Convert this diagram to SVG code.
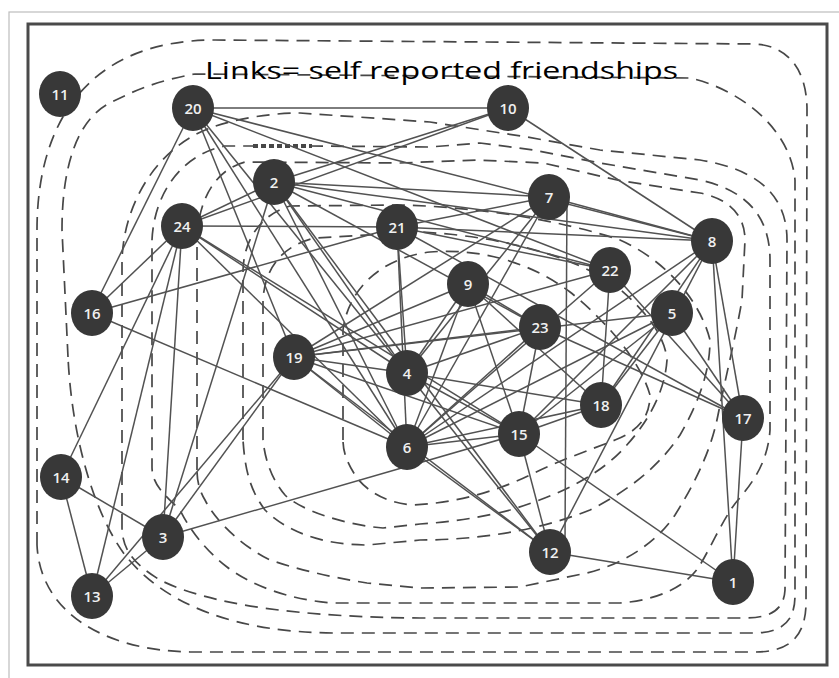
<svg xmlns="http://www.w3.org/2000/svg" width="839" height="678" viewBox="0 0 839 678">
<style>
.bg{fill:#fff}
.frame{fill:none;stroke:#4a4a4a;stroke-width:3}
.outer{fill:none;stroke:#bdbdbd;stroke-width:1.2}
.c{fill:none;stroke:#474747;stroke-width:1.7;stroke-dasharray:13 8}
.e{stroke:#525252;stroke-width:1.5;fill:none}
.n ellipse{fill:#383838}
.n text{fill:#f0f0f0;font-family:"Open Sans","Liberation Sans",sans-serif;font-size:15px;font-weight:600;text-anchor:middle}
.title{font-family:"Open Sans","Liberation Sans",sans-serif;font-size:23px;fill:#000}
</style>
<rect class="bg" x="0" y="0" width="839" height="678"/>
<rect class="outer" x="9" y="12" width="840" height="680"/>
<rect class="frame" x="28" y="24" width="799" height="641"/>
<g id="contours">
<path class="c" d="M37,545 L37,230 C37,120 90,40 215,40 L755,44 C790,46 807,72 807,110 L806,605 C805,638 788,652 755,652 L190,652 C100,650 40,610 37,545 Z"/>
<path class="c" d="M68,357 L62,230 C62,160 80,118 110,103 C135,90 160,80 195,74 L690,78 C735,88 790,125 795,180 L795,595 C795,622 782,633 752,633 L333,633 C235,632 165,605 125,555 C95,515 72,440 68,357 Z"/>
<path class="c" d="M122,527 L122,260 C124,200 160,145 213,127 C235,119 270,113 300,113 L430,122 L527,137 L600,150 L700,160 C750,168 787,190 787,240 L785,590 C784,610 770,618 745,618 L420,618 C300,617 210,605 160,580 C135,565 122,550 122,527 Z"/>
<path class="c" d="M310,146 L430,147 L480,143 L533,150 L600,163 L700,180 C745,190 770,215 770,260 L770,430 C768,460 755,480 738,500 C725,515 712,545 700,565 C688,585 660,600 620,603 L333,603 C290,600 250,585 227,567 C205,550 190,530 180,510 C165,495 152,485 152,467 L152,240 C154,195 180,155 225,146 L253,146"/>
<path class="c" d="M197,470 L197,240 C198,200 215,170 245,162 L400,163 L477,160 L543,163 L617,180 L700,193 C725,198 745,212 745,240 L742,300 C735,340 725,380 718,415 C712,445 700,475 675,515 C655,545 620,565 587,573 L520,587 L420,588 L367,583 C330,577 300,570 270,560 C240,545 215,520 205,500 C199,490 197,480 197,470 Z"/>
<path class="c" d="M243,440 L243,270 C244,240 260,215 290,206 L400,205 C480,207 560,220 620,240 C665,260 700,300 710,340 C710,370 700,400 680,435 C660,465 630,490 590,510 C540,530 480,540 420,540 L367,545 C320,545 285,530 265,510 C250,490 245,470 243,440 Z"/>
<path class="c" d="M263,440 L263,300 C265,265 285,245 315,238 L420,232 C500,236 570,255 615,285 C645,310 665,335 667,360 C665,390 650,420 625,447 C600,475 560,495 510,510 C480,518 450,522 420,524 L383,528 C345,525 300,510 285,495 C272,480 265,460 263,440 Z"/>
<path class="c" d="M343,440 L343,330 C348,290 380,258 430,252 C480,248 530,262 570,292 C605,320 640,360 650,395 C650,420 635,432 615,440 C590,450 560,460 530,475 C495,492 455,503 413,505 C385,503 365,490 355,475 C347,462 343,452 343,440 Z"/>
<path d="M253,146 L312,146" stroke="#474747" stroke-width="4" stroke-dasharray="5 3" fill="none"/>
</g>
<g id="connectors">
<line class="e" x1="193" y1="108" x2="508" y2="108"/>
<line class="e" x1="193" y1="108" x2="712" y2="241"/>
<line class="e" x1="193" y1="108" x2="610" y2="270"/>
<line class="e" x1="193" y1="108" x2="407" y2="447"/>
<line class="e" x1="193" y1="108" x2="294" y2="357"/>
<line class="e" x1="193" y1="108" x2="91" y2="313"/>
<line class="e" x1="193" y1="108" x2="407" y2="373"/>
<line class="e" x1="508" y1="108" x2="274" y2="182"/>
<line class="e" x1="508" y1="108" x2="182" y2="226"/>
<line class="e" x1="508" y1="108" x2="712" y2="241"/>
<line class="e" x1="91" y1="313" x2="182" y2="226"/>
<line class="e" x1="91" y1="313" x2="397" y2="227"/>
<line class="e" x1="91" y1="313" x2="407" y2="447"/>
<line class="e" x1="182" y1="226" x2="274" y2="182"/>
<line class="e" x1="182" y1="226" x2="397" y2="227"/>
<line class="e" x1="182" y1="226" x2="61" y2="477"/>
<line class="e" x1="182" y1="226" x2="92" y2="596"/>
<line class="e" x1="182" y1="226" x2="163" y2="537"/>
<line class="e" x1="182" y1="226" x2="407" y2="373"/>
<line class="e" x1="182" y1="226" x2="519" y2="434"/>
<line class="e" x1="182" y1="226" x2="407" y2="447"/>
<line class="e" x1="274" y1="182" x2="549" y2="197"/>
<line class="e" x1="274" y1="182" x2="712" y2="241"/>
<line class="e" x1="274" y1="182" x2="610" y2="270"/>
<line class="e" x1="274" y1="182" x2="540" y2="327"/>
<line class="e" x1="274" y1="182" x2="163" y2="537"/>
<line class="e" x1="274" y1="182" x2="407" y2="447"/>
<line class="e" x1="274" y1="182" x2="407" y2="373"/>
<line class="e" x1="274" y1="182" x2="550" y2="552"/>
<line class="e" x1="397" y1="227" x2="549" y2="197"/>
<line class="e" x1="397" y1="227" x2="712" y2="241"/>
<line class="e" x1="397" y1="227" x2="407" y2="373"/>
<line class="e" x1="397" y1="227" x2="407" y2="447"/>
<line class="e" x1="397" y1="227" x2="610" y2="270"/>
<line class="e" x1="397" y1="227" x2="743" y2="418"/>
<line class="e" x1="549" y1="197" x2="712" y2="241"/>
<line class="e" x1="567" y1="200" x2="565" y2="540"/>
<line class="e" x1="549" y1="197" x2="407" y2="373"/>
<line class="e" x1="549" y1="197" x2="407" y2="447"/>
<line class="e" x1="549" y1="197" x2="294" y2="357"/>
<line class="e" x1="712" y1="241" x2="601" y2="405"/>
<line class="e" x1="712" y1="241" x2="519" y2="434"/>
<line class="e" x1="712" y1="241" x2="407" y2="447"/>
<line class="e" x1="712" y1="241" x2="743" y2="418"/>
<line class="e" x1="712" y1="241" x2="733" y2="582"/>
<line class="e" x1="712" y1="241" x2="550" y2="552"/>
<line class="e" x1="610" y1="270" x2="601" y2="405"/>
<line class="e" x1="610" y1="270" x2="743" y2="418"/>
<line class="e" x1="610" y1="270" x2="294" y2="357"/>
<line class="e" x1="610" y1="270" x2="407" y2="447"/>
<line class="e" x1="468" y1="284" x2="407" y2="373"/>
<line class="e" x1="468" y1="284" x2="519" y2="434"/>
<line class="e" x1="468" y1="284" x2="601" y2="405"/>
<line class="e" x1="468" y1="284" x2="407" y2="447"/>
<line class="e" x1="468" y1="284" x2="294" y2="357"/>
<line class="e" x1="468" y1="284" x2="540" y2="327"/>
<line class="e" x1="540" y1="327" x2="294" y2="357"/>
<line class="e" x1="540" y1="327" x2="519" y2="434"/>
<line class="e" x1="540" y1="327" x2="743" y2="418"/>
<line class="e" x1="540" y1="327" x2="407" y2="447"/>
<line class="e" x1="540" y1="327" x2="407" y2="373"/>
<line class="e" x1="672" y1="313" x2="743" y2="418"/>
<line class="e" x1="672" y1="313" x2="601" y2="405"/>
<line class="e" x1="672" y1="313" x2="294" y2="357"/>
<line class="e" x1="672" y1="313" x2="519" y2="434"/>
<line class="e" x1="672" y1="313" x2="407" y2="447"/>
<line class="e" x1="601" y1="405" x2="519" y2="434"/>
<line class="e" x1="601" y1="405" x2="407" y2="373"/>
<line class="e" x1="601" y1="405" x2="407" y2="447"/>
<line class="e" x1="743" y1="418" x2="733" y2="582"/>
<line class="e" x1="519" y1="434" x2="550" y2="552"/>
<line class="e" x1="519" y1="434" x2="733" y2="582"/>
<line class="e" x1="519" y1="434" x2="163" y2="537"/>
<line class="e" x1="519" y1="434" x2="407" y2="447"/>
<line class="e" x1="519" y1="434" x2="294" y2="357"/>
<line class="e" x1="519" y1="434" x2="407" y2="373"/>
<line class="e" x1="550" y1="552" x2="733" y2="582"/>
<line class="e" x1="550" y1="552" x2="407" y2="447"/>
<line class="e" x1="550" y1="552" x2="407" y2="373"/>
<line class="e" x1="550" y1="552" x2="294" y2="357"/>
<line class="e" x1="294" y1="357" x2="407" y2="373"/>
<line class="e" x1="294" y1="357" x2="407" y2="447"/>
<line class="e" x1="294" y1="357" x2="163" y2="537"/>
<line class="e" x1="61" y1="477" x2="92" y2="596"/>
<line class="e" x1="61" y1="477" x2="163" y2="537"/>
<line class="e" x1="92" y1="596" x2="163" y2="537"/>
<line class="e" x1="92" y1="596" x2="294" y2="357"/>
</g>
<text class="title" x="205" y="79" textLength="473" lengthAdjust="spacingAndGlyphs">Links= self reported friendships</text>
<g id="n11" class="n"><ellipse cx="60" cy="94" rx="21" ry="23"/><text x="60" y="99.5">11</text></g>
<g id="n20" class="n"><ellipse cx="193" cy="108" rx="21" ry="23"/><text x="193" y="113.5">20</text></g>
<g id="n10" class="n"><ellipse cx="508" cy="108" rx="21" ry="23"/><text x="508" y="113.5">10</text></g>
<g id="n2" class="n"><ellipse cx="274" cy="182" rx="21" ry="23"/><text x="274" y="187.5">2</text></g>
<g id="n7" class="n"><ellipse cx="549" cy="197" rx="21" ry="23"/><text x="549" y="202.5">7</text></g>
<g id="n24" class="n"><ellipse cx="182" cy="226" rx="21" ry="23"/><text x="182" y="231.5">24</text></g>
<g id="n21" class="n"><ellipse cx="397" cy="227" rx="21" ry="23"/><text x="397" y="232.5">21</text></g>
<g id="n8" class="n"><ellipse cx="712" cy="241" rx="21" ry="23"/><text x="712" y="246.5">8</text></g>
<g id="n22" class="n"><ellipse cx="610" cy="270" rx="21" ry="23"/><text x="610" y="275.5">22</text></g>
<g id="n9" class="n"><ellipse cx="468" cy="284" rx="21" ry="23"/><text x="468" y="289.5">9</text></g>
<g id="n16" class="n"><ellipse cx="92" cy="313" rx="21" ry="23"/><text x="92" y="318.5">16</text></g>
<g id="n5" class="n"><ellipse cx="672" cy="313" rx="21" ry="23"/><text x="672" y="318.5">5</text></g>
<g id="n23" class="n"><ellipse cx="540" cy="327" rx="21" ry="23"/><text x="540" y="332.5">23</text></g>
<g id="n19" class="n"><ellipse cx="294" cy="357" rx="21" ry="23"/><text x="294" y="362.5">19</text></g>
<g id="n4" class="n"><ellipse cx="407" cy="373" rx="21" ry="23"/><text x="407" y="378.5">4</text></g>
<g id="n18" class="n"><ellipse cx="601" cy="405" rx="21" ry="23"/><text x="601" y="410.5">18</text></g>
<g id="n17" class="n"><ellipse cx="743" cy="418" rx="21" ry="23"/><text x="743" y="423.5">17</text></g>
<g id="n6" class="n"><ellipse cx="407" cy="447" rx="21" ry="23"/><text x="407" y="452.5">6</text></g>
<g id="n15" class="n"><ellipse cx="519" cy="434" rx="21" ry="23"/><text x="519" y="439.5">15</text></g>
<g id="n14" class="n"><ellipse cx="61" cy="477" rx="21" ry="23"/><text x="61" y="482.5">14</text></g>
<g id="n3" class="n"><ellipse cx="163" cy="537" rx="21" ry="23"/><text x="163" y="542.5">3</text></g>
<g id="n12" class="n"><ellipse cx="550" cy="552" rx="21" ry="23"/><text x="550" y="557.5">12</text></g>
<g id="n13" class="n"><ellipse cx="92" cy="596" rx="21" ry="23"/><text x="92" y="601.5">13</text></g>
<g id="n1" class="n"><ellipse cx="733" cy="582" rx="21" ry="23"/><text x="733" y="587.5">1</text></g>
</svg>
